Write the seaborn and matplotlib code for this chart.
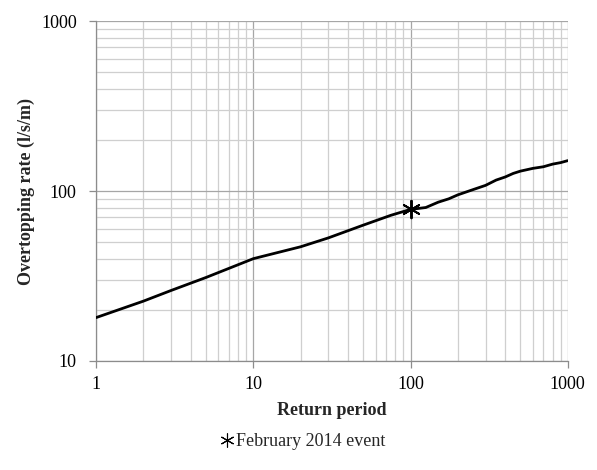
import matplotlib
matplotlib.use("Agg")
import matplotlib.pyplot as plt
import matplotlib.ticker as mticker
from matplotlib.lines import Line2D
import seaborn as sns
import pandas as pd

return_period = [1, 2, 3, 5, 10, 20, 30, 50, 75, 100, 125, 150, 175, 200, 250, 300, 350, 400, 450, 500, 600, 700, 800, 900, 1000]
overtopping = [18, 22.5, 26, 31, 40, 47, 53, 63, 72, 78, 80, 86, 90, 95, 102, 108, 116, 121, 127, 131, 136, 139, 144, 147, 151]
event_T = [100]
event_q = [78]
event_label = "February 2014 event"
x_ticks = [1, 10, 100, 1000]
y_ticks = [10, 100, 1000]

sns.set_style("white")
plt.rcParams['font.family'] = ['Liberation Serif', 'DejaVu Serif']

df = pd.DataFrame({"T": return_period, "q": overtopping})
ev = pd.DataFrame({"T": event_T, "q": event_q})

fig = plt.figure(figsize=(5.97, 4.70), dpi=100)
ax = fig.add_axes([0.161, 0.232, 0.79, 0.723])
ax.set_xscale("log")
ax.set_yscale("log")

sns.lineplot(data=df, x="T", y="q", ax=ax, color="black", linewidth=2.0, zorder=3)
sns.scatterplot(data=ev, x="T", y="q", ax=ax, marker=(6, 2, 0), s=160, color="black",
                linewidth=1.4, edgecolor="black", zorder=4, legend=False)

ax.set_xlim(1, 1000)
ax.set_ylim(10, 1000)
ax.xaxis.set_major_locator(mticker.FixedLocator(x_ticks))
ax.yaxis.set_major_locator(mticker.FixedLocator(y_ticks))
ax.xaxis.set_major_formatter(mticker.FixedFormatter([str(v) for v in x_ticks]))
ax.yaxis.set_major_formatter(mticker.FixedFormatter([str(v) for v in y_ticks]))
ax.xaxis.set_minor_locator(mticker.LogLocator(base=10, subs=range(2, 10)))
ax.yaxis.set_minor_locator(mticker.LogLocator(base=10, subs=range(2, 10)))
ax.xaxis.set_minor_formatter(mticker.NullFormatter())
ax.yaxis.set_minor_formatter(mticker.NullFormatter())

ax.grid(which="major", color="#a6a6a6", linewidth=0.9)
ax.grid(which="minor", color="#cfcfcf", linewidth=0.9)
ax.set_axisbelow(True)

for s in ["top", "right"]:
    ax.spines[s].set_visible(False)
for s in ["left", "bottom"]:
    ax.spines[s].set_color("#8c8c8c")
    ax.spines[s].set_linewidth(0.9)

ax.tick_params(which="major", direction="out", length=5, width=0.9, color="#8c8c8c",
               labelsize=13, labelcolor="black", left=True, bottom=True)
ax.tick_params(axis="y", which="major", pad=9)
ax.tick_params(axis="x", which="major", pad=6)
ax.tick_params(which="minor", length=0)

ax.set_xlabel("Return period", fontsize=13, fontweight="bold", labelpad=6)
ax.set_ylabel("Overtopping rate (l/s/m)", fontsize=13, fontweight="bold", labelpad=4)

handle = Line2D([], [], linestyle="none", marker=(6, 2, 0), markersize=10,
                markeredgewidth=0.8, color="black")
fig.legend([handle], [event_label], loc="center", bbox_to_anchor=(0.505, 0.06), frameon=False,
           fontsize=13, handletextpad=0.0, handlelength=1.0)

fig.savefig("out.png", dpi=100)
